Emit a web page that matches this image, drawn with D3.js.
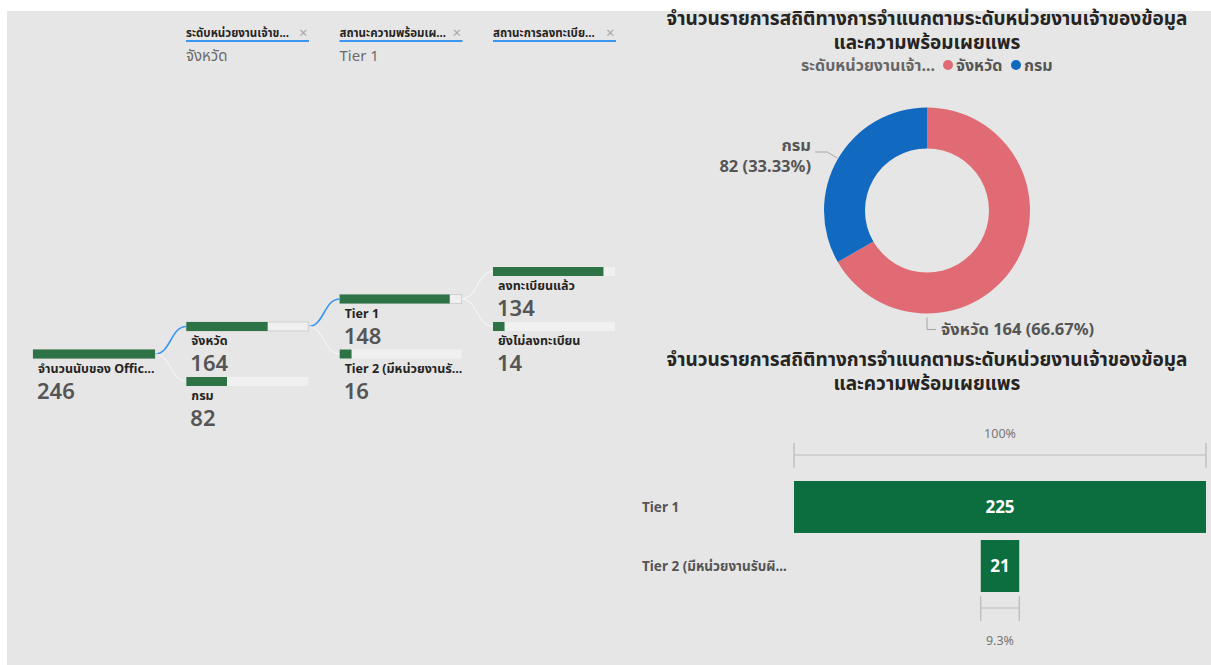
<!DOCTYPE html>
<html>
<head>
<meta charset="utf-8">
<script src="https://cdn.jsdelivr.net/npm/d3@7/dist/d3.min.js"></script>
<style>
  html, body { margin: 0; padding: 0; background: #ffffff; }
  svg { display: block; font-family: "Segoe UI", "Noto Sans", "Noto Sans Thai", Tahoma, sans-serif; }
</style>
</head>
<body>
<svg id="chart" width="1211" height="665"></svg>
<script>
// ---- Data ----
const filterFields = ["ระดับหน่วยงานเจ้าข...", "สถานะความพร้อมเผ...", "สถานะการลงทะเบีย..."];
const filterValues = ["จังหวัด", "Tier 1", ""];

const treeLevel0 = [{ name: "จำนวนนับของ Offic...", value: 246, expanded: true }];
const treeLevel1 = [{ name: "จังหวัด", value: 164, expanded: true }, { name: "กรม", value: 82, expanded: false }];
const treeLevel2 = [{ name: "Tier 1", value: 148, expanded: true }, { name: "Tier 2 (มีหน่วยงานรั...", value: 16, expanded: false }];
const treeLevel3 = [{ name: "ลงทะเบียนแล้ว", value: 134, expanded: false }, { name: "ยังไม่ลงทะเบียน", value: 14, expanded: false }];

const donutTitle = ["จำนวนรายการสถิติทางการจำแนกตามระดับหน่วยงานเจ้าของข้อมูล", "และความพร้อมเผยแพร"];
const donutLegendTitle = "ระดับหน่วยงานเจ้า...";
const donutCategories = ["จังหวัด", "กรม"];
const donutValues = [164, 82];
const donutColors = ["#e06b74", "#1169c0"];

const funnelTitle = ["จำนวนรายการสถิติทางการจำแนกตามระดับหน่วยงานเจ้าของข้อมูล", "และความพร้อมเผยแพร"];
const funnelCategories = ["Tier 1", "Tier 2 (มีหน่วยงานรับผิ..."];
const funnelValues = [225, 21];

// ---- Canvas ----
const svg = d3.select("#chart");
svg.append("rect").attr("x", 7).attr("y", 11).attr("width", 1204).attr("height", 654).attr("fill", "#e6e6e6");

// ---- Filter chips above the decomposition tree ----
const chipX = d3.scalePoint().domain(d3.range(filterFields.length)).range([186, 493]);
filterFields.forEach((f, i) => {
  const g = svg.append("g").attr("transform", `translate(${chipX(i)},0)`);
  g.append("text").attr("x", 0).attr("y", 37).attr("font-size", 11.5).attr("font-weight", 700)
    .attr("fill", "#252423").text(f);
  g.append("text").attr("x", 113).attr("y", 38).attr("font-size", 15).attr("fill", "#a8a8a8").text("×");
  g.append("rect").attr("x", 0).attr("y", 40).attr("width", 123).attr("height", 2).attr("fill", "#3a96f0");
  if (filterValues[i]) {
    g.append("text").attr("x", 0).attr("y", 61).attr("font-size", 15).attr("fill", "#6b6b6b").text(filterValues[i]);
  }
});

// ---- Decomposition tree ----
const levels = [treeLevel0, treeLevel1, treeLevel2, treeLevel3];
const colX = d3.scalePoint().domain(d3.range(levels.length)).range([33, 493]);
const barW = 122, barH = 9, rowGap = 55;
const treeG = svg.append("g");

// vertical centre of each node, children spread around their expanded parent
const positioned = [];
let parentCy = 354, parentValue = treeLevel0[0].value;
levels.forEach((lvl, li) => {
  const n = lvl.length;
  const ys = d3.scaleLinear().domain([0, Math.max(1, n - 1)]).range([parentCy - rowGap * (n - 1) / 2, parentCy + rowGap * (n - 1) / 2]);
  const wScale = d3.scaleLinear().domain([0, parentValue]).range([0, barW]);
  const nodes = lvl.map((d, i) => ({ ...d, li, cy: ys(i), x: colX(li), w: wScale(d.value) }));
  positioned.push(nodes);
  const exp = nodes.find(d => d.expanded);
  if (exp) { parentCy = exp.cy; parentValue = exp.value; }
});

// connectors
const link = d3.linkHorizontal().x(d => d[0]).y(d => d[1]);
positioned.forEach((nodes, li) => {
  if (li === 0) return;
  const parent = positioned[li - 1].find(d => d.expanded);
  nodes.forEach(d => {
    treeG.append("path")
      .attr("d", link({ source: [parent.x + barW, parent.cy], target: [d.x, d.cy] }))
      .attr("fill", "none")
      .attr("stroke", d.expanded ? "#3a96f0" : "#f4f4f4")
      .attr("stroke-width", d.expanded ? 1.6 : 1.2);
  });
});

// nodes
positioned.flat().forEach(d => {
  const top = d.cy - barH / 2;
  const g = treeG.append("g");
  g.append("rect").attr("x", d.x).attr("y", top).attr("width", barW).attr("height", barH)
    .attr("fill", "#f0f0f0")
    .attr("stroke", d.expanded ? "#cfcfcf" : "none").attr("stroke-width", 1);
  g.append("rect").attr("x", d.x).attr("y", top).attr("width", d.w).attr("height", barH).attr("fill", "#2e7346");
  g.append("text").attr("x", d.x + 5).attr("y", top + 23).attr("font-size", 12.5).attr("font-weight", 700)
    .attr("fill", "#252423").text(d.name);
  g.append("text").attr("x", d.x + 4).attr("y", top + 49).attr("font-size", 22).attr("font-weight", 600)
    .attr("fill", "#555555").text(d.value);
});

// ---- Donut chart ----
const titleG = svg.append("g").attr("text-anchor", "middle").attr("font-weight", 700).attr("fill", "#252423");
donutTitle.forEach((t, i) => {
  titleG.append("text").attr("x", 927).attr("y", 25 + i * 24).attr("font-size", 19).text(t);
});

// legend
const legendG = svg.append("g").attr("font-size", 16).attr("font-weight", 700);
legendG.append("text").attr("x", 935).attr("y", 71).attr("text-anchor", "end").attr("fill", "#666666").text(donutLegendTitle);
const legendX = [948, 1016];
donutCategories.forEach((c, i) => {
  legendG.append("circle").attr("cx", legendX[i]).attr("cy", 65).attr("r", 5).attr("fill", donutColors[i]);
  legendG.append("text").attr("x", legendX[i] + 8).attr("y", 71).attr("fill", "#555555").text(c);
});

const cx = 927, cy = 210.5, rOuter = 103, rInner = 62;
const pie = d3.pie().sort(null).value(d => d)(donutValues);
const arc = d3.arc().innerRadius(rInner).outerRadius(rOuter);
const donutG = svg.append("g").attr("transform", `translate(${cx},${cy})`);
donutG.selectAll("path").data(pie).join("path")
  .attr("d", arc).attr("fill", (d, i) => donutColors[i]);

const total = d3.sum(donutValues);
const pct = v => (v / total * 100).toFixed(2) + "%";
const labelFont = 16.5;

// กรม: leader starts on the outer edge of its slice, bends and runs left
{
  const ly = -52.5;
  const lx = -Math.sqrt((rOuter + 1) ** 2 - ly * ly);
  donutG.append("polyline")
    .attr("points", [[lx, ly], [lx - 10, ly - 6], [lx - 22, ly - 6]].map(q => q.join(",")).join(" "))
    .attr("fill", "none").attr("stroke", "#a6a6a6").attr("stroke-width", 1);
  svg.append("text").attr("x", 811).attr("y", 151).attr("text-anchor", "end").attr("font-size", labelFont)
    .attr("font-weight", 700).attr("fill", "#555555").text(donutCategories[1]);
  svg.append("text").attr("x", 811).attr("y", 172).attr("text-anchor", "end").attr("font-size", labelFont)
    .attr("font-weight", 700).attr("fill", "#555555").text(`${donutValues[1]} (${pct(donutValues[1])})`);
}
// จังหวัด: leader drops from the bottom of the ring
{
  const p = [0, rOuter + 4];
  donutG.append("polyline")
    .attr("points", [[p[0], p[1]], [p[0], p[1] + 12], [p[0] + 9, p[1] + 12]].map(q => q.join(",")).join(" "))
    .attr("fill", "none").attr("stroke", "#a6a6a6").attr("stroke-width", 1);
  svg.append("text").attr("x", 941).attr("y", 335).attr("font-size", labelFont)
    .attr("font-weight", 700).attr("fill", "#555555")
    .text(`${donutCategories[0]} ${donutValues[0]} (${pct(donutValues[0])})`);
}

// ---- Funnel chart ----
const fTitle = svg.append("g").attr("text-anchor", "middle").attr("font-weight", 700).attr("fill", "#252423");
funnelTitle.forEach((t, i) => {
  fTitle.append("text").attr("x", 927).attr("y", 366 + i * 24).attr("font-size", 19).text(t);
});

const fLeft = 794, fRight = 1206, fMid = (fLeft + fRight) / 2;
const fw = d3.scaleLinear().domain([0, d3.max(funnelValues)]).range([0, fRight - fLeft]);
const fy = d3.scaleBand().domain(funnelCategories).range([481, 592]).paddingInner(0.12);
const fG = svg.append("g");

funnelCategories.forEach((c, i) => {
  const w = fw(funnelValues[i]);
  fG.append("rect").attr("x", fMid - w / 2).attr("y", fy(c)).attr("width", w).attr("height", fy.bandwidth())
    .attr("fill", "#0c6e3e");
  fG.append("text").attr("x", fMid).attr("y", fy(c) + fy.bandwidth() / 2 + 6).attr("text-anchor", "middle")
    .attr("font-size", 17).attr("font-weight", 700).attr("fill", "#ffffff").text(funnelValues[i]);
  fG.append("text").attr("x", 642).attr("y", fy(c) + fy.bandwidth() / 2 + 5).attr("font-size", 13.5)
    .attr("font-weight", 700).attr("fill", "#555555").text(c);
});

// percent brackets for first and last stage
function bracket(x0, x1, y, label, labelY) {
  const g = fG.append("g").attr("stroke", "#b9b9b9").attr("stroke-width", 1.2);
  g.append("line").attr("x1", x0).attr("x2", x1).attr("y1", y).attr("y2", y);
  g.append("line").attr("x1", x0).attr("x2", x0).attr("y1", y - 12).attr("y2", y + 13);
  g.append("line").attr("x1", x1).attr("x2", x1).attr("y1", y - 12).attr("y2", y + 13);
  fG.append("text").attr("x", (x0 + x1) / 2).attr("y", labelY).attr("text-anchor", "middle")
    .attr("font-size", 12.5).attr("fill", "#777777").text(label);
}
const first = funnelValues[0], last = funnelValues[funnelValues.length - 1];
bracket(fMid - fw(first) / 2, fMid + fw(first) / 2, 455, "100%", 438);
bracket(fMid - fw(last) / 2, fMid + fw(last) / 2, 608, (last / first * 100).toFixed(1) + "%", 645);
</script>
</body>
</html>
